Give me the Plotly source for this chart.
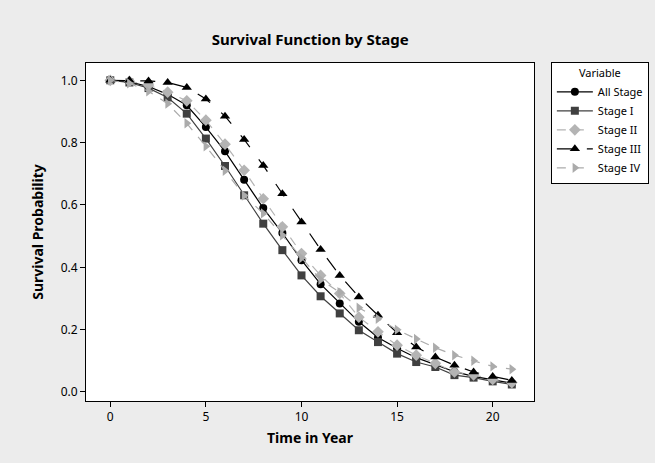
import plotly.graph_objects as go

years = list(range(22))

all_stage = [1.0, 0.995, 0.98, 0.955, 0.92, 0.85, 0.772, 0.681, 0.59, 0.51, 0.423,
             0.346, 0.284, 0.225, 0.175, 0.14, 0.11, 0.088, 0.065, 0.05, 0.038, 0.028]
stage_1 = [1.0, 0.993, 0.975, 0.945, 0.893, 0.813, 0.725, 0.631, 0.54, 0.455, 0.374,
           0.307, 0.252, 0.198, 0.16, 0.123, 0.096, 0.08, 0.054, 0.046, 0.034, 0.024]
stage_2 = [1.0, 0.997, 0.985, 0.962, 0.934, 0.872, 0.795, 0.711, 0.62, 0.53, 0.444,
           0.374, 0.316, 0.24, 0.193, 0.15, 0.118, 0.092, 0.064, 0.055, 0.04, 0.03]
stage_3 = [1.0, 1.0, 0.998, 0.993, 0.977, 0.94, 0.885, 0.81, 0.727, 0.636, 0.545,
           0.457, 0.374, 0.305, 0.246, 0.19, 0.144, 0.112, 0.086, 0.064, 0.05, 0.037]
stage_4 = [1.0, 0.99, 0.965, 0.925, 0.862, 0.788, 0.71, 0.63, 0.573, 0.503, 0.43,
           0.36, 0.32, 0.27, 0.235, 0.2, 0.17, 0.142, 0.118, 0.1, 0.082, 0.073]

series = [
    ("All Stage", all_stage, "#000000", "solid", "circle", 8),
    ("Stage I", stage_1, "#404040", "solid", "square", 8),
    ("Stage II", stage_2, "#b4b4b4", "dash", "diamond", 9),
    ("Stage III", stage_3, "#000000", "longdash", "triangle-up", 9),
    ("Stage IV", stage_4, "#ababab", "dash", "triangle-right", 9),
]

fig = go.Figure()
for name, values, color, dash, symbol, size in series:
    fig.add_trace(go.Scatter(
        x=years, y=values, name=name, mode="lines+markers",
        line=dict(color=color, width=1.2, dash=dash),
        marker=dict(symbol=symbol, size=size, color=color),
    ))

font = "Noto Sans"
fig.update_layout(
    width=655, height=463,
    paper_bgcolor="#ececec", plot_bgcolor="white",
    margin=dict(l=86, r=121, t=63, b=62),
    font=dict(family=font, size=12, color="#000000"),
    title=dict(text="<b>Survival Function by Stage</b>", x=0.4735, xanchor="center",
               y=0.915, yanchor="middle", font=dict(size=15)),
    legend=dict(xref="container", yref="container", x=0.841, xanchor="left",
                y=0.866, yanchor="top",
                bgcolor="white", bordercolor="#000000", borderwidth=1,
                font=dict(size=11), tracegroupgap=0, itemwidth=36,
                title=dict(text="Variable", side="top center", font=dict(size=11))),
)
fig.update_xaxes(range=[-1.27, 22.16], tickvals=[0, 5, 10, 15, 20],
                 showgrid=False, zeroline=False, showline=True, linecolor="#000000",
                 mirror=True, ticks="outside", ticklen=5, tickcolor="#000000",
                 title=dict(text="<b>Time in Year</b>", standoff=8))
fig.update_yaxes(range=[-0.029, 1.0555], tickvals=[0, 0.2, 0.4, 0.6, 0.8, 1.0],
                 tickformat=".1f",
                 showgrid=False, zeroline=False, showline=True, linecolor="#000000",
                 mirror=True, ticks="outside", ticklen=5, tickcolor="#000000",
                 title=dict(text="<b>Survival Probability</b>", standoff=13))

# drop the default page margin so the chart sits at the window's top-left corner
fig.write_html("out.html", config={"displayModeBar": False},
               post_script="document.body.style.margin='0';"
               "document.body.style.background='#ececec';")
